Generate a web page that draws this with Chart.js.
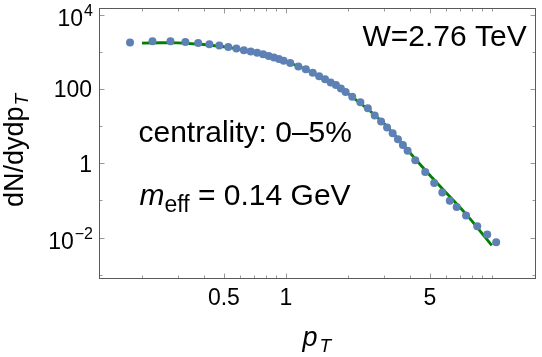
<!DOCTYPE html>
<html>
<head>
<meta charset="utf-8">
<script src="https://cdn.jsdelivr.net/npm/chart.js@4/dist/chart.umd.min.js"></script>
<style>
  html,body{margin:0;padding:0;background:#fff}
  canvas{display:block}
</style>
</head>
<body>
<canvas id="spec" width="542" height="357"></canvas>
<script>
/* pT spectrum, log-log, data points + model curve */

// measured spectrum (pT in GeV, dN/dy dpT)
const ptData = [0.175,0.225,0.275,0.325,0.375,0.425,0.475,0.525,0.575,0.625,0.675,0.725,0.775,0.825,0.875,0.925,0.975,
  1.05,1.15,1.25,1.35,1.45,1.55,1.65,1.75,1.85,1.95,
  2.1,2.3,2.5,2.7,2.9,3.1,3.3,3.5,3.7,3.9,
  4.25,4.75,5.25,5.75,6.25,6.75,7.5,8.5,9.5,10.5];
const yieldData = [1758,1919,1919,1837,1726,1592,1459,1346,1213,1097,1019,939,857,771,694,632,572,
  499,402,338,272,220,182,149,127,103,82.5,
  61.7,43.5,30.2,19.4,13.2,9.22,6.40,4.41,3.08,2.16,
  1.21,0.586,0.296,0.164,0.0982,0.0664,0.0394,0.0202,0.0121,0.00757];

// model curve
const ptModel    = [0.2,0.25,0.3,0.4,0.5,0.6,0.7,0.8,0.9,1.0,1.2,1.4,1.6,1.8,2.0,2.5,3.0,3.5,4.0,4.5,5.0,6.0,7.0,8.0,9.0,10.0];
const yieldModel = [1690,1740,1730,1560,1360,1150,950,800,660,545,370,245,165,114,75.2,28.7,11.7,4.60,1.93,0.916,0.478,0.161,0.0656,0.0284,0.01265,0.0062];

// ticks
const xMajor  = [0.5,1,5];
const xLabels = ['0.5','1','5'];
const xMinor  = [0.2,0.3,0.4,0.6,0.7,0.8,0.9,2,3,4,6,7,8,9,10];
const yMajor  = [0.01,1,100,10000];
const yLabels = [['10','\u22122'],['1',''],['100',''],['10','4']];
const yMinor  = [0.001,0.1,10,1000];

const FONT = '"Liberation Sans", Arial, sans-serif';

function txt(ctx, s, x, y, size, opts={}) {
  ctx.font = `${opts.italic?'italic ':''}${size}px ${FONT}`;
  ctx.textAlign = opts.align || 'left';
  ctx.textBaseline = 'alphabetic';
  ctx.fillText(s, x, y);
  return ctx.measureText(s).width;
}

const framePlugin = {
  id: 'frame',
  afterDraw(chart) {
    const {ctx, chartArea:a, scales:{x, y}} = chart;
    ctx.save();
    // ticks, inward on all four sides
    ctx.strokeStyle = '#999'; ctx.lineWidth = 1;
    ctx.beginPath();
    const tx = (v, len) => {
      const px = Math.round(x.getPixelForValue(v)) + 0.5;
      ctx.moveTo(px, a.bottom); ctx.lineTo(px, a.bottom - len);
      ctx.moveTo(px, a.top);    ctx.lineTo(px, a.top + len);
    };
    const ty = (v, len) => {
      const py = Math.round(y.getPixelForValue(v)) + 0.5;
      ctx.moveTo(a.left, py);  ctx.lineTo(a.left + len, py);
      ctx.moveTo(a.right, py); ctx.lineTo(a.right - len, py);
    };
    xMajor.forEach(v => tx(v, 5)); xMinor.forEach(v => tx(v, 3));
    yMajor.forEach(v => ty(v, 5)); yMinor.forEach(v => ty(v, 3));
    ctx.stroke();
    // frame
    ctx.strokeStyle = '#5a5a5a';
    ctx.strokeRect(a.left, a.top, a.right - a.left, a.bottom - a.top);

    ctx.fillStyle = '#000';
    // x tick labels
    xMajor.forEach((v,i) => txt(ctx, xLabels[i], x.getPixelForValue(v), 305, 23, {align:'center'}));
    // y tick labels, with superscript exponent
    yMajor.forEach((v,i) => {
      const py = y.getPixelForValue(v);
      const [base, sup] = yLabels[i];
      if (!sup) { txt(ctx, base, 92, py + 8.3, 23, {align:'right'}); return; }
      ctx.font = `16px ${FONT}`;
      const w = ctx.measureText(sup).width;
      txt(ctx, sup, 93, py + 1.5, 16, {align:'right'});
      txt(ctx, base, 93 - w - 1, py + 11, 23, {align:'right'});
    });

    // axis titles
    let w = txt(ctx, 'p', 302.5, 345.5, 27, {italic:true});
    txt(ctx, 'T', 302.5 + w + 2, 351.5, 19, {italic:true});
    ctx.save();
    ctx.translate(23.3, 207); ctx.rotate(-Math.PI/2);
    w = txt(ctx, 'dN/dydp', 0, 0, 27);
    txt(ctx, 'T', w + 1, 5, 19, {italic:true});
    ctx.restore();

    // annotations
    txt(ctx, 'W=2.76 TeV', 362.5, 46, 30);
    txt(ctx, 'centrality: 0\u20135%', 138.5, 141.5, 30);
    w = txt(ctx, 'm', 139.5, 205, 30, {italic:true});
    const w2 = txt(ctx, 'eff', 139.5 + w, 211.5, 23);
    txt(ctx, ' = 0.14 GeV', 139.5 + w + w2, 205, 30);
    ctx.restore();
  }
};

new Chart(document.getElementById('spec'), {
  type: 'scatter',
  data: {
    datasets: [
      { label:'data', data: ptData.map((p,i) => ({x:p, y:yieldData[i]})),
        backgroundColor:'#5e81b5', borderWidth:0, pointRadius:4, showLine:false },
      { type:'line', label:'model', data: ptModel.map((p,i) => ({x:p, y:yieldModel[i]})),
        borderColor:'#008000', borderWidth:2.8, pointRadius:0, fill:false, tension:0 },
    ],
  },
  options: {
    responsive:false, animation:false, devicePixelRatio:1,
    layout:{ padding:{ left:99.5, right:6.5, top:8.5, bottom:78.5 } },
    plugins:{ legend:{display:false}, tooltip:{enabled:false} },
    scales:{
      x:{ type:'logarithmic', min:0.1244, max:16.3, display:false },
      y:{ type:'logarithmic', min:0.0008, max:14500, display:false },
    },
  },
  plugins:[framePlugin],
});
</script>
</body>
</html>
